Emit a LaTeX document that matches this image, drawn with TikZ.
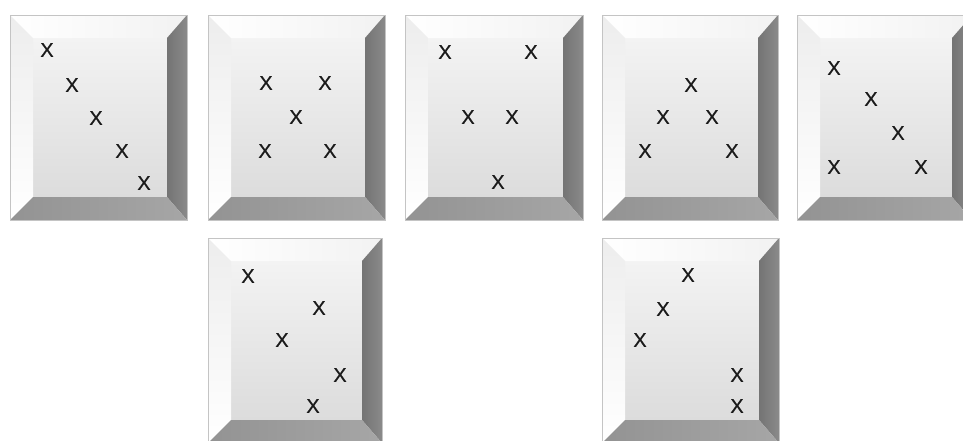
\documentclass[tikz,border=0pt]{standalone}
\usepackage{fontspec}
\setmainfont{Liberation Sans}
\newfontfamily\xfont[FakeBold=0.6]{Liberation Sans}
\definecolor{facetop}{HTML}{F3F3F3}
\definecolor{facebot}{HTML}{DCDCDC}
\definecolor{topbevA}{HTML}{FFFFFF}
\definecolor{topbevB}{HTML}{F2F2F2}
\definecolor{leftbevA}{HTML}{FFFFFF}
\definecolor{leftbevB}{HTML}{EDEDED}
\definecolor{rightbevA}{HTML}{747474}
\definecolor{rightbevB}{HTML}{8A8A8A}
\definecolor{botbevA}{HTML}{939393}
\definecolor{botbevB}{HTML}{A6A6A6}
\definecolor{rimcol}{HTML}{C4C4C4}
\definecolor{xcol}{HTML}{1A1A1A}
\tikzset{
  face/.style={top color=facetop,bottom color=facebot},
  topbev/.style={left color=topbevA,right color=topbevB},
  leftbev/.style={top color=leftbevB,bottom color=leftbevA},
  rightbev/.style={left color=rightbevA,right color=rightbevB},
  botbev/.style={left color=botbevA,right color=botbevB},
  rim/.style={draw=rimcol,line width=0.9pt},
  xm/.style={text=xcol,font=\xfont\fontsize{20}{20}\selectfont,inner sep=0pt}
}
% #1 left, #2 top, #3 right, #4 bottom of the outer frame
\newcommand\bevbox[4]{%
  \path[face] (#1+23,#2+23) rectangle (#3-20,#4-23);
  \path[topbev] (#1,#2) -- (#3,#2) -- (#3-20,#2+23) -- (#1+23,#2+23) -- cycle;
  \path[leftbev] (#1,#2) -- (#1+23,#2+23) -- (#1+23,#4-23) -- (#1,#4) -- cycle;
  \path[rightbev] (#3,#2) -- (#3,#4) -- (#3-20,#4-23) -- (#3-20,#2+23) -- cycle;
  \path[botbev] (#1,#4) -- (#1+23,#4-23) -- (#3-20,#4-23) -- (#3,#4) -- cycle;
  \draw[rim] (#1,#2) rectangle (#3,#4);
}
\begin{document}
\begin{tikzpicture}[x=1pt,y=-1pt]
\useasboundingbox (0,0) rectangle (963,440);
\clip (0,0) rectangle (963,440);
\fill[white] (0,0) rectangle (963,440);
% top row
\bevbox{10}{15}{187}{220}
\bevbox{208}{15}{385}{220}
\bevbox{405}{15}{583}{220}
\bevbox{602}{15}{778}{220}
\bevbox{797}{15}{972}{220}
% bottom row
\bevbox{208}{238}{382}{443}
\bevbox{602}{238}{779}{443}
% box 1
\node[xm] (a1) at (47,50) {X};
\node[xm] (a2) at (72,85) {X};
\node[xm] (a3) at (96,118) {X};
\node[xm] (a4) at (122,151) {X};
\node[xm] (a5) at (144,183) {X};
% box 2
\node[xm] (b1) at (266,83) {X};
\node[xm] (b2) at (325,83) {X};
\node[xm] (b3) at (296,117) {X};
\node[xm] (b4) at (265,151) {X};
\node[xm] (b5) at (330,151) {X};
% box 3
\node[xm] (c1) at (445,52) {X};
\node[xm] (c2) at (531,52) {X};
\node[xm] (c3) at (468,117) {X};
\node[xm] (c4) at (512,117) {X};
\node[xm] (c5) at (498,182) {X};
% box 4
\node[xm] (d1) at (691,85) {X};
\node[xm] (d2) at (663,117) {X};
\node[xm] (d3) at (712,117) {X};
\node[xm] (d4) at (645,151) {X};
\node[xm] (d5) at (732,151) {X};
% box 5
\node[xm] (e1) at (834,68) {X};
\node[xm] (e2) at (871,99) {X};
\node[xm] (e3) at (898,133) {X};
\node[xm] (e4) at (834,167) {X};
\node[xm] (e5) at (921,167) {X};
% box 6
\node[xm] (f1) at (248,276) {X};
\node[xm] (f2) at (319,308) {X};
\node[xm] (f3) at (282,340) {X};
\node[xm] (f4) at (340,375) {X};
\node[xm] (f5) at (313,406) {X};
% box 7
\node[xm] (g1) at (688,275) {X};
\node[xm] (g2) at (663,309) {X};
\node[xm] (g3) at (640,340) {X};
\node[xm] (g4) at (737,375) {X};
\node[xm] (g5) at (737,406) {X};
\end{tikzpicture}
\end{document}
